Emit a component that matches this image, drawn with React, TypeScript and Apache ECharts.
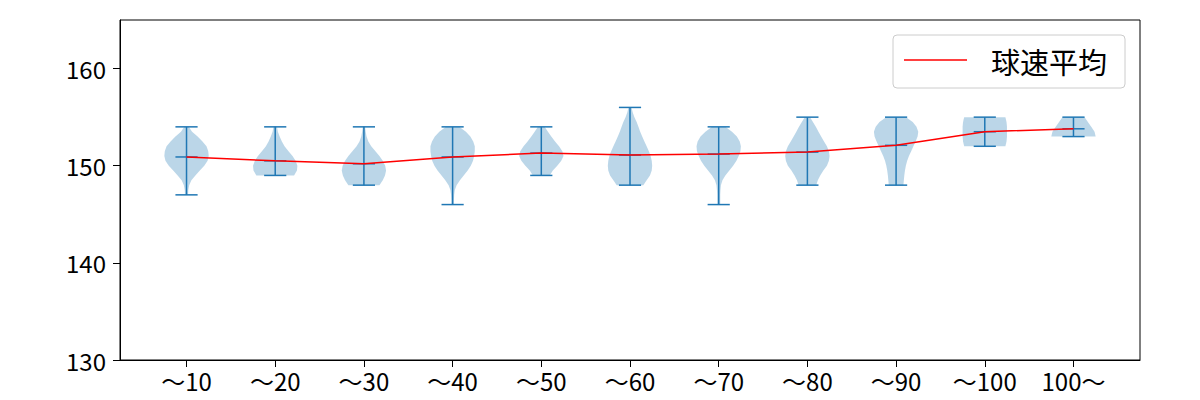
import React, { useEffect, useRef } from "react";
import * as echarts from "echarts";

const categories = ["～10", "～20", "～30", "～40", "～50", "～60", "～70", "～80", "～90", "～100", "100～"];
const mins = [147, 149, 148, 146, 149, 148, 146, 148, 148, 152, 153];
const maxs = [154, 154, 154, 154, 154, 156, 154, 155, 155, 155, 155];
const means = [150.9, 150.5, 150.2, 150.9, 151.3, 151.1, 151.2, 151.4, 152.1, 153.5, 153.8];
const yTicks = [130, 140, 150, 160];
const legendName = "球速平均";

// violin outlines: [value, relative half-width]
const profile1 = [[154, 0.1], [153.5, 0.25], [153, 0.5], [152.5, 0.72], [152, 0.9], [151.5, 0.98], [151, 1], [150.5, 0.95], [150, 0.8], [149.5, 0.6], [149, 0.4], [148.5, 0.22], [148, 0.12], [147.5, 0.08], [147, 0.07]];
const profile2 = [[154, 0.08], [153.5, 0.12], [153, 0.2], [152.5, 0.3], [152, 0.42], [151.5, 0.6], [151, 0.78], [150.5, 0.92], [150, 1], [149.5, 0.98], [149, 0.85]];
const profile3 = [[154, 0.05], [153.5, 0.08], [153, 0.12], [152.5, 0.2], [152, 0.33], [151.5, 0.52], [151, 0.7], [150.5, 0.85], [150, 0.96], [149.5, 1], [149, 0.95], [148.5, 0.85], [148, 0.7]];
const profile4 = [[154, 0.3], [153.5, 0.6], [153, 0.8], [152.5, 0.93], [152, 1], [151.5, 1], [151, 0.97], [150.5, 0.92], [150, 0.82], [149.5, 0.68], [149, 0.5], [148.5, 0.33], [148, 0.18], [147.5, 0.1], [147, 0.07], [146.5, 0.06], [146, 0.06]];
const profile5 = [[154, 0.15], [153.5, 0.3], [153, 0.45], [152.5, 0.62], [152, 0.8], [151.5, 0.95], [151, 1], [150.5, 0.9], [150, 0.72], [149.5, 0.52], [149, 0.38]];
const profile6 = [[156, 0.07], [155.5, 0.12], [155, 0.2], [154.5, 0.3], [154, 0.38], [153.5, 0.46], [153, 0.55], [152.5, 0.65], [152, 0.75], [151.5, 0.85], [151, 0.93], [150.5, 0.98], [150, 1], [149.5, 0.98], [149, 0.9], [148.5, 0.75], [148, 0.6]];
const profile7 = [[154, 0.3], [153.5, 0.6], [153, 0.82], [152.5, 0.95], [152, 1], [151.5, 0.98], [151, 0.9], [150.5, 0.8], [150, 0.65], [149.5, 0.48], [149, 0.3], [148.5, 0.17], [148, 0.1], [147.5, 0.08], [147, 0.07], [146.5, 0.07], [146, 0.07]];
const profile8 = [[155, 0.12], [154.5, 0.25], [154, 0.38], [153.5, 0.5], [153, 0.62], [152.5, 0.75], [152, 0.88], [151.5, 0.97], [151, 1], [150.5, 0.97], [150, 0.88], [149.5, 0.72], [149, 0.58], [148.5, 0.47], [148, 0.4]];
const profile9 = [[155, 0.45], [154.5, 0.75], [154, 0.92], [153.5, 1], [153, 0.97], [152.5, 0.88], [152, 0.78], [151.5, 0.68], [151, 0.58], [150.5, 0.5], [150, 0.44], [149.5, 0.4], [149, 0.37], [148.5, 0.35], [148, 0.33]];
const profile10 = [[155, 0.93], [154.5, 0.98], [154, 1], [153.5, 1], [153, 1], [152.5, 0.98], [152, 0.93]];
const profile11 = [[155, 0.5], [154.5, 0.65], [154, 0.8], [153.5, 0.95], [153, 1]];
const profiles = [profile1, profile2, profile3, profile4, profile5, profile6, profile7, profile8, profile9, profile10, profile11];

const BLUE = "#1f77b4";
const FONT = "'Noto Sans CJK JP', 'Noto Sans', sans-serif";

export default function App() {
  const ref = useRef<HTMLDivElement>(null);
  useEffect(() => {
    document.body.style.margin = "0";
    const chart = echarts.init(ref.current!, null, { renderer: "svg" });
    const positions = categories.map((_, i) => i + 1);
    const option: any = {
      animation: false,
      grid: { left: 120, right: 60, top: 20, bottom: 40, show: true, borderColor: "#000", borderWidth: 1, backgroundColor: "transparent" },
      xAxis: {
        type: "value",
        min: 0.25,
        max: 11.75,
        splitLine: { show: false },
        axisLine: { show: true, lineStyle: { color: "#000", width: 1 } },
        axisTick: { show: true, length: 7, lineStyle: { color: "#000" }, customValues: positions },
        axisLabel: {
          customValues: positions,
          formatter: (v: number) => categories[Math.round(v) - 1] ?? "",
          color: "#000",
          fontSize: 24,
          fontFamily: FONT,
          margin: 8,
        },
      },
      yAxis: {
        type: "value",
        min: 130,
        max: 165,
        interval: 10,
        splitLine: { show: false },
        axisLine: { show: true, lineStyle: { color: "#000", width: 1 } },
        axisTick: { show: true, length: 7, lineStyle: { color: "#000" } },
        axisLabel: {
          color: "#000",
          fontSize: 24,
          fontFamily: FONT,
          margin: 14,
          showMaxLabel: false,
          formatter: (v: number) => (yTicks.includes(v) ? String(v) : ""),
        },
      },
      series: [
        {
          type: "custom",
          name: "violin",
          data: positions.map((p) => [p]),
          encode: { x: 0 },
          renderItem: (params: any, api: any) => {
            const i = params.dataIndex;
            const pos = positions[i];
            const prof = profiles[i];
            const right = prof.map(([v, w]) => api.coord([pos + 0.25 * w, v]));
            const left = prof.slice().reverse().map(([v, w]) => api.coord([pos - 0.25 * w, v]));
            const pts = right.concat(left);
            const cap = (v: number) => {
              const a = api.coord([pos - 0.125, v]);
              const b = api.coord([pos + 0.125, v]);
              return { type: "line", shape: { x1: a[0], y1: a[1], x2: b[0], y2: b[1] }, style: { stroke: BLUE, lineWidth: 1.5 } };
            };
            const top = api.coord([pos, maxs[i]]);
            const bot = api.coord([pos, mins[i]]);
            return {
              type: "group",
              children: [
                { type: "polygon", shape: { points: pts }, style: { fill: BLUE, opacity: 0.3 } },
                { type: "line", shape: { x1: top[0], y1: top[1], x2: bot[0], y2: bot[1] }, style: { stroke: BLUE, lineWidth: 1.5 } },
                cap(maxs[i]),
                cap(mins[i]),
                cap(means[i]),
              ],
            };
          },
          z: 2,
        },
        {
          type: "line",
          name: legendName,
          data: positions.map((p, i) => [p, means[i]]),
          showSymbol: false,
          symbol: "none",
          lineStyle: { color: "#ff0000", width: 1.5 },
          z: 5,
        },
      ],
      graphic: [
        {
          type: "rect",
          shape: { x: 893, y: 35, width: 232, height: 53, r: 4 },
          style: { fill: "rgba(255,255,255,0.8)", stroke: "#cccccc", lineWidth: 1 },
          z: 10,
        },
        {
          type: "line",
          shape: { x1: 904, y1: 60, x2: 967, y2: 60 },
          style: { stroke: "#ff0000", lineWidth: 1.5 },
          z: 11,
        },
        {
          type: "text",
          x: 991,
          y: 61,
          style: { text: legendName, fontSize: 29, fontFamily: FONT, fill: "#000", verticalAlign: "middle", align: "left" },
          z: 11,
        },
      ],
    };
    chart.setOption(option);
    return () => chart.dispose();
  }, []);
  return <div ref={ref} style={{ width: 1200, height: 400 }} />;
}
